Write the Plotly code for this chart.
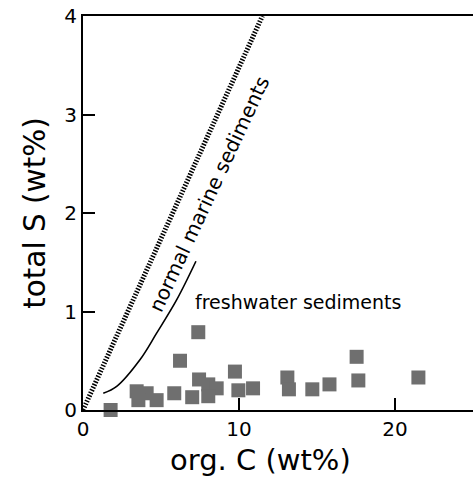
import plotly.graph_objects as go

# Data
org_c = [1.77, 3.44, 4.08, 3.55, 4.72, 6.22, 5.85, 7.0, 7.44, 8.03, 8.57, 8.03,
         9.74, 9.96, 10.9, 7.39, 17.54, 17.65, 21.5, 13.1, 13.2, 14.7, 15.8]
total_s = [0.0, 0.19, 0.17, 0.10, 0.10, 0.50, 0.17, 0.13, 0.31, 0.26, 0.22, 0.14,
           0.39, 0.20, 0.22, 0.79, 0.54, 0.30, 0.33, 0.33, 0.21, 0.21, 0.26]

marine_c = [0, 11.5]
marine_s = [0, 4.0]

fresh_c = [1.30, 2.16, 3.65, 4.72, 6.01, 7.24]
fresh_s = [0.17, 0.24, 0.51, 0.78, 1.12, 1.51]

x_ticks = [0, 10, 20]
y_ticks = [0, 1, 2, 3, 4]

FONT = "DejaVu Sans"

fig = go.Figure()
fig.add_trace(go.Scatter(x=marine_c, y=marine_s, mode="lines",
                         line=dict(color="black", width=5, dash="1.5px,1.5px"),
                         cliponaxis=False, showlegend=False))
fig.add_trace(go.Scatter(x=fresh_c, y=fresh_s, mode="lines",
                         line=dict(color="black", width=1.6, shape="spline"),
                         showlegend=False))
fig.add_trace(go.Scatter(x=org_c, y=total_s, mode="markers",
                         marker=dict(symbol="square", size=14, color="#6f6f6f",
                                     line=dict(width=0)),
                         cliponaxis=False, showlegend=False))

fig.add_annotation(x=8.1, y=2.19, text="normal marine sediments", showarrow=False,
                   textangle=-65, font=dict(family=FONT, size=20, color="black"))
fig.add_annotation(x=13.75, y=1.10, text="freshwater sediments", showarrow=False,
                   font=dict(family=FONT, size=19, color="black"))
# x-axis title (placed like the reference, left of the plot-area centre)
fig.add_annotation(xref="paper", yref="paper", x=(260 - 83) / 390, y=-0.128,
                   xanchor="center", yanchor="middle", showarrow=False,
                   text="org. C (wt%)", font=dict(family=FONT, size=29, color="black"))

fig.update_layout(
    width=473, height=481,
    margin=dict(l=83, r=0, t=16, b=71),
    paper_bgcolor="white", plot_bgcolor="white",
    font=dict(family=FONT, color="black"),
    xaxis=dict(range=[0, 25], tickvals=x_ticks, ticks="inside", ticklen=12,
               tickwidth=1.5, tickcolor="black", showline=True, linecolor="black",
               linewidth=1.8, mirror=True, showgrid=False, zeroline=False,
               tickfont=dict(size=20)),
    yaxis=dict(range=[0, 4], tickvals=y_ticks, ticks="inside", ticklen=12,
               tickwidth=1.5, tickcolor="black", showline=True, linecolor="black",
               linewidth=1.8, showgrid=False, zeroline=False,
               tickfont=dict(size=20),
               title=dict(text="total S (wt%)", font=dict(size=29.5), standoff=10)),
)

fig.write_html("out.html")
